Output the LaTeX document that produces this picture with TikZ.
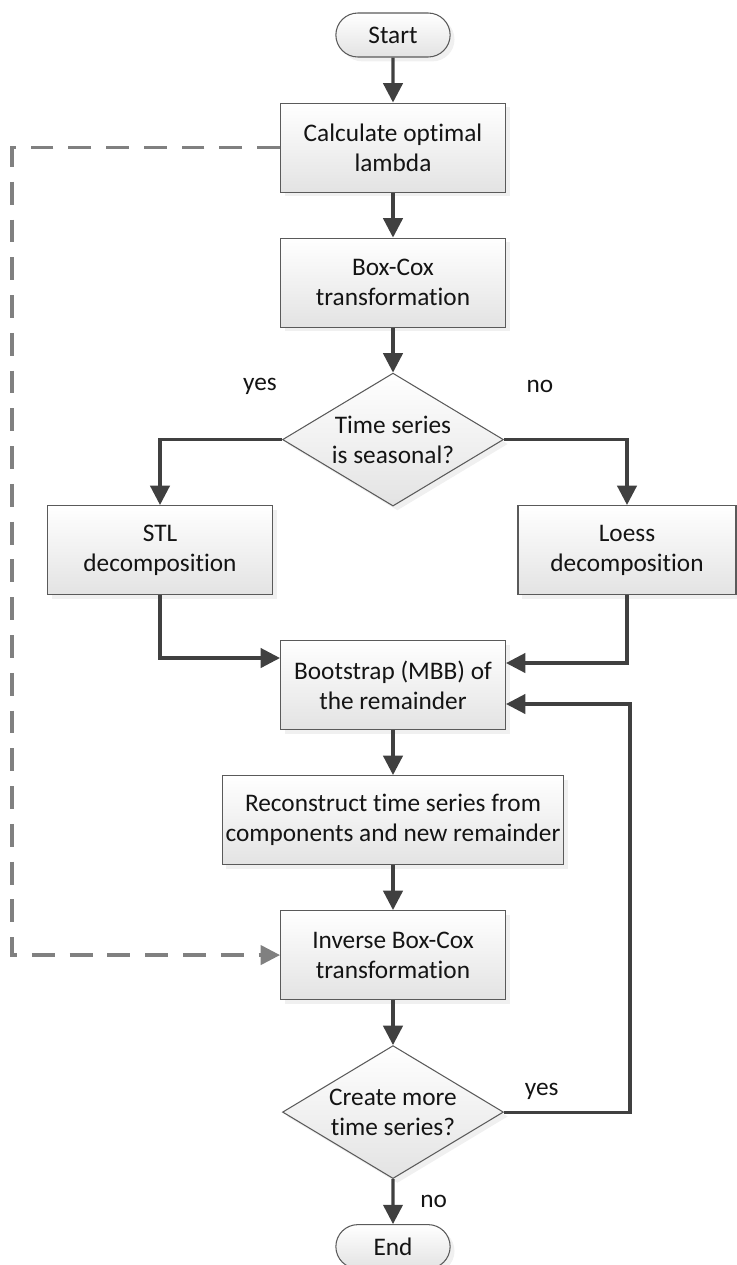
\documentclass[tikz,border=0pt]{standalone}
\usepackage{fontspec}
\setmainfont{Carlito}[Ligatures=NoCommon]
\usepackage{tikz}
\usetikzlibrary{positioning,shapes.geometric,shapes.misc,shadows,arrows.meta}
\definecolor{line0}{RGB}{64,64,64}
\definecolor{edge0}{RGB}{90,90,90}
\definecolor{dash0}{RGB}{128,128,128}
\definecolor{ink}{RGB}{20,20,20}
\tikzset{
  boxbase/.style={draw=edge0,line width=0.6pt,top color=white,bottom color=black!11,text=ink,
    drop shadow={shadow xshift=2.5pt,shadow yshift=-2.5pt,opacity=0.12},align=center,font=\fontsize{14.4}{17}\selectfont},
  proc/.style={boxbase,minimum width=4.5cm,minimum height=1.78cm,inner sep=2pt},
  term/.style={boxbase,rounded rectangle,minimum width=2.52cm,minimum height=0.88cm},
  dec/.style={boxbase,diamond,aspect=1.67,minimum width=4.42cm,minimum height=2.66cm,inner sep=0pt},
  flow/.style={line0,line width=1.8pt,-{Triangle[length=11pt,width=11pt]}},
  feedback/.style={dash0,line width=1.8pt,dash pattern=on 13pt off 8.5pt,-{Triangle[length=11pt,width=11pt]}},
  lbl/.style={font=\fontsize{14.4}{17}\selectfont,text=ink},
}

\begin{document}
\begin{tikzpicture}[x=0.02cm,y=-0.02cm,node distance=9mm]
    \useasboundingbox (0,0) rectangle (737,1265);
    \node[term] (start) at (393,35) {Start};
    \node[proc,below=of start] (lambda) {Calculate optimal\\lambda};
    \node[proc,below=of lambda] (boxcox) {Box-Cox\\transformation};
    \node[dec,below=of boxcox] (season) {Time series\\is seasonal?};
    \node[proc] (stl) at (160,550) {STL\\decomposition};
    \node[proc,minimum width=4.36cm] (loess) at (627,550) {Loess\\decomposition};
    \node[proc] (boot) at (393,685) {Bootstrap (MBB) of\\the remainder};
    \node[proc,minimum width=6.08cm,below=of boot] (recon) {Reconstruct time series from\\components and new remainder};
    \node[proc,below=of recon] (inverse) {Inverse Box-Cox\\transformation};
    \node[dec,below=of inverse] (more) {Create more\\time series?};
    \node[term,below=of more] (end) {End};
    \node[lbl] (yes1) at (260,386) {yes};
    \node[lbl] (no1) at (540,386) {no};
    \coordinate (loopc) at (630,704);
    \coordinate (rail) at (12,550);
    % main flow
    \draw[flow] (start) -- (lambda);
    \draw[flow] (lambda) -- (boxcox);
    \draw[flow] (boxcox) -- (season);
    \draw[flow] (season.west) -| (stl.north);
    \draw[flow] (season.east) -| (loess.north);
    \draw[flow] (stl.south) |- ([yshift=5.4mm]boot.west);
    \draw[flow] (loess.south) |- ([yshift=4.4mm]boot.east);
    \draw[flow] (boot) -- (recon);
    \draw[flow] (recon) -- (inverse);
    \draw[flow] (inverse) -- (more);
    \draw[flow] (more) -- node[lbl,right=4mm] (no2) {no} (end);
    \draw[flow] (more.east) -| node[lbl,pos=0.15,above=3pt] (yes2) {yes} (loopc) -- (boot.east |- loopc);
    % lambda reused
    \draw[feedback] (lambda.west) -| (rail) |- (inverse.west);
  \end{tikzpicture}
\end{document}
